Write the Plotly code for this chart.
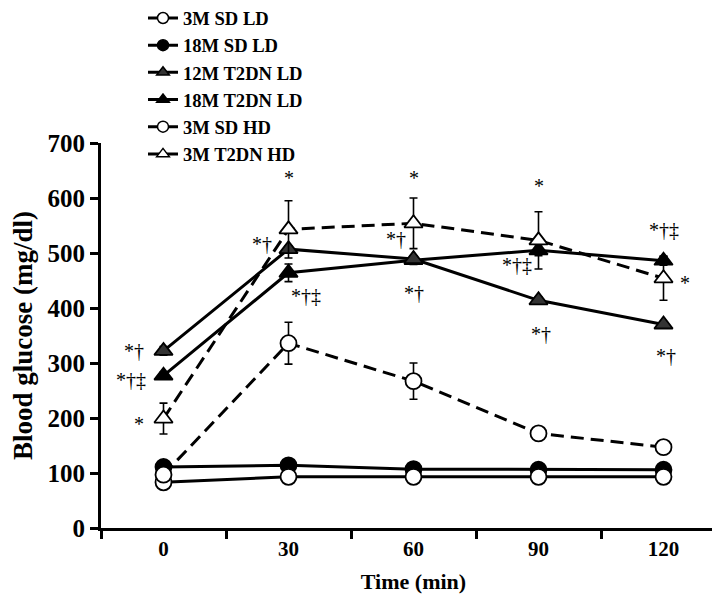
import plotly.graph_objects as go

# ---- data ----
times = ['0', '30', '60', '90', '120']
sd3_ld = [83, 93, 93, 93, 93]
sd18_ld = [111, 114, 107, 106, 106]
t2dn12_ld = [322, 507, 489, 414, 370]
t2dn18_ld = [277, 464, 487, 505, 486]
sd3_hd = [97, 336, 267, 172, 147]
t2dn3_hd = [199, 543, 554, 523, 454]

sd3_ld_err = [3, 3, 3, 3, 3]
sd18_ld_err = [4, 4, 3, 3, 3]
t2dn12_ld_err = [8, 6, 6, 6, 5]
t2dn18_ld_err = [6, 16, 8, 10, 8]
sd3_hd_err = [4, 38, 33, 8, 6]
t2dn3_hd_err = [28, 52, 46, 52, 40]

# significance marks: (time, value level, text, horizontal shift)
sig_time = ['0', '0', '0', '30', '30', '30', '60', '60', '60', '90', '90', '90', '120', '120', '120']
sig_level = [322, 269, 190, 637, 516, 422, 637, 525, 428, 621, 479, 352, 541, 446, 312]
sig_text = ['*†', '*†‡', '*', '*', '*†', '*†‡', '*', '*†', '*†', '*', '*†‡', '*†', '*†‡', '*', '*†']
sig_shift = [-30, -33, -25, 0, -27, 17, 0, -18, 0, 0, -22, 2, 0, 21, 2]

FONT = 'Liberation Serif'

fig = go.Figure()

def add_series(name, y, err, symbol, fill, dash):
    fig.add_trace(go.Scatter(
        x=times, y=y, mode='lines+markers', name=name, showlegend=False,
        line=dict(color='black', width=3, dash=dash),
        marker=dict(symbol=symbol, size=16, color=fill, line=dict(color='black', width=1.8)),
        error_y=dict(type='data', array=err, visible=True, color='black', thickness=1.6, width=4),
        cliponaxis=False,
    ))

add_series('18M SD LD', sd18_ld, sd18_ld_err, 'circle', 'black', 'solid')
add_series('3M SD LD', sd3_ld, sd3_ld_err, 'circle', 'white', 'solid')
add_series('3M SD HD', sd3_hd, sd3_hd_err, 'circle', 'white', '13px,7px')
add_series('18M T2DN LD', t2dn18_ld, t2dn18_ld_err, 'triangle-up', 'black', 'solid')
add_series('12M T2DN LD', t2dn12_ld, t2dn12_ld_err, 'triangle-up', '#333333', 'solid')
add_series('3M T2DN HD', t2dn3_hd, t2dn3_hd_err, 'triangle-up', 'white', '13px,7px')

# legend-only entries (legend samples are drawn with solid lines)
legend_items = [
    ('3M SD LD', 'circle', 'white'),
    ('18M SD LD', 'circle', 'black'),
    ('12M T2DN LD', 'triangle-up', '#333333'),
    ('18M T2DN LD', 'triangle-up', 'black'),
    ('3M SD HD', 'circle', 'white'),
    ('3M T2DN HD', 'triangle-up', 'white'),
]
for name, sym, fill in legend_items:
    fig.add_trace(go.Scatter(
        x=[None], y=[None], mode='lines+markers', name=name,
        line=dict(color='black', width=3),
        marker=dict(symbol=sym, size=11, color=fill, line=dict(color='black', width=1.5)),
    ))

for t, lv, tx, sh in zip(sig_time, sig_level, sig_text, sig_shift):
    fig.add_annotation(x=times.index(t), y=lv, text=tx, showarrow=False, xshift=sh,
                       font=dict(family=FONT, size=20, color='black'),
                       xanchor='center', yanchor='middle')

fig.update_layout(
    width=720, height=601,
    margin=dict(l=93, r=2, t=135, b=81, autoexpand=False),
    paper_bgcolor='white', plot_bgcolor='white',
    showlegend=True,
    legend=dict(x=0.0672, y=1.373, xanchor='left', yanchor='top',
                font=dict(family=FONT, size=18.6, color='black', weight='bold'),
                bgcolor='rgba(0,0,0,0)', tracegroupgap=0, itemwidth=30),
    font=dict(family=FONT, color='black'),
)
fig.update_xaxes(
    type='category', categoryorder='array', categoryarray=times,
    range=[-0.5, 4.5], tickson='boundaries',
    showline=True, linecolor='black', linewidth=3,
    ticks='outside', ticklen=8, tickwidth=3, tickcolor='black',
    showgrid=False, zeroline=False,
    tickfont=dict(family=FONT, size=21, color='black', weight='bold'),
    title=dict(text='Time (min)', font=dict(family=FONT, size=22, color='black', weight='bold'), standoff=14),
)
fig.update_yaxes(
    range=[0, 700], dtick=100, tick0=0,
    showline=True, linecolor='black', linewidth=3,
    ticks='outside', ticklen=8, tickwidth=3, tickcolor='black',
    showgrid=False, zeroline=False,
    tickfont=dict(family=FONT, size=25, color='black', weight='bold'),
    title=dict(text='Blood glucose (mg/dl)', font=dict(family=FONT, size=27, color='black', weight='bold'), standoff=10),
)

fig.write_html('out.html')
